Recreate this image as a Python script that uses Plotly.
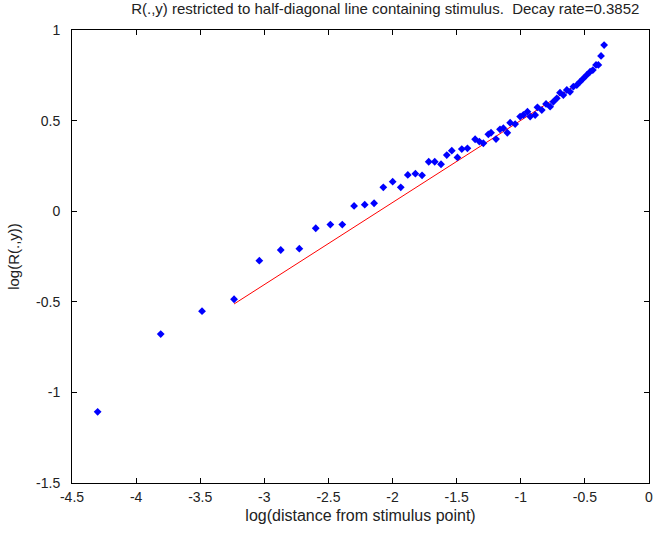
import plotly.graph_objects as go

x_vals = [-4.300, -3.808, -3.486, -3.236, -3.039, -2.872, -2.727, -2.599, -2.485, -2.392,
          -2.300, -2.217, -2.144, -2.072, -1.999, -1.936, -1.881, -1.822, -1.770, -1.718,
          -1.671, -1.622, -1.577, -1.538, -1.494, -1.460, -1.416, -1.356, -1.323, -1.292,
          -1.253, -1.232, -1.193, -1.162, -1.136, -1.105, -1.083, -1.044, -1.005, -0.980,
          -0.948, -0.927, -0.888, -0.870, -0.836, -0.803, -0.771, -0.746, -0.719, -0.694,
          -0.668, -0.641, -0.616, -0.590, -0.563, -0.537, -0.512, -0.485, -0.459, -0.438,
          -0.413, -0.395, -0.374, -0.350]
y_vals = [-1.107, -0.678, -0.552, -0.486, -0.273, -0.214, -0.207, -0.094, -0.074, -0.074,
          0.029, 0.036, 0.044, 0.132, 0.163, 0.132, 0.200, 0.207, 0.198, 0.273,
          0.273, 0.259, 0.310, 0.334, 0.297, 0.343, 0.347, 0.397, 0.384, 0.375,
          0.424, 0.433, 0.398, 0.452, 0.458, 0.433, 0.488, 0.481, 0.522, 0.531,
          0.549, 0.522, 0.531, 0.573, 0.558, 0.592, 0.577, 0.604, 0.623, 0.654,
          0.641, 0.669, 0.659, 0.687, 0.696, 0.715, 0.733, 0.752, 0.770, 0.779,
          0.807, 0.807, 0.857, 0.917]

fit_x = [-3.236, -0.55]
fit_y = [-0.512, 0.705]

x_ticks = [-4.5, -4, -3.5, -3, -2.5, -2, -1.5, -1, -0.5, 0]
y_ticks = [-1.5, -1, -0.5, 0, 0.5, 1]

title_text = "R(.,y) restricted to half-diagonal line containing stimulus.&nbsp;&nbsp;Decay rate=0.3852"
x_title = "log(distance from stimulus point)"
y_title = "log(R(.,y))"

font_family = "Liberation Sans, Arial, sans-serif"

fig = go.Figure()
fig.add_trace(go.Scatter(x=fit_x, y=fit_y, mode="lines",
                         line=dict(color="#ff0000", width=1), showlegend=False))
fig.add_trace(go.Scatter(x=x_vals, y=y_vals, mode="markers",
                         marker=dict(symbol="diamond", size=6, color="#0000ff",
                                     line=dict(width=0)), showlegend=False))

axis_common = dict(showgrid=False, zeroline=False, showline=True, linecolor="black",
                   linewidth=1, mirror="ticks", ticks="inside", ticklen=5,
                   ticklabeloverflow="allow", automargin=False,
                   tickcolor="black", tickfont=dict(family=font_family, size=14, color="#222222"))

fig.update_layout(
    width=653, height=536,
    margin=dict(l=72, r=4, t=30, b=53),
    paper_bgcolor="white", plot_bgcolor="white",
    font=dict(family=font_family, size=14, color="#222222"),
    title=dict(text=title_text, x=0.59, xanchor="center", y=0.993, yanchor="top",
               font=dict(family=font_family, size=15, color="#222222")),
    xaxis=dict(range=[-4.5, 0], tickvals=x_ticks, ticktext=[str(v) for v in x_ticks],
               ticklabelstandoff=1,
               title=dict(text=x_title, standoff=6, font=dict(family=font_family, size=16)),
               **axis_common),
    yaxis=dict(range=[-1.5, 1], tickvals=y_ticks, ticktext=[str(v) for v in y_ticks],
               ticklabelstandoff=8,
               title=dict(text=y_title, standoff=12, font=dict(family=font_family, size=15)),
               **axis_common),
)

fig.write_html("out.html")
